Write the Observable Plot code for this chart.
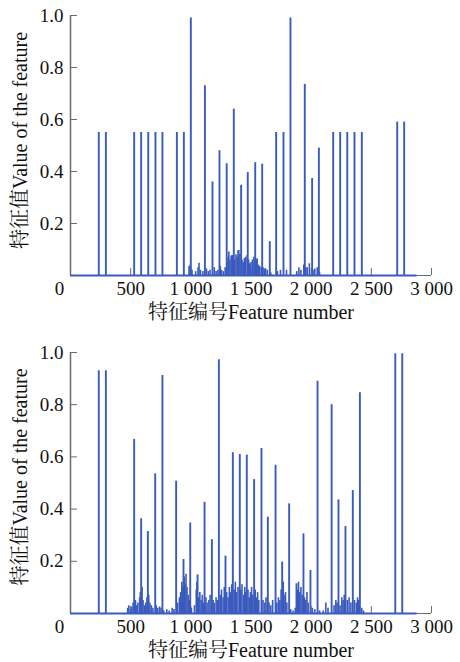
<!DOCTYPE html>
<html><head><meta charset="utf-8">
<script src="https://cdn.jsdelivr.net/npm/d3@7"></script>
<script src="https://cdn.jsdelivr.net/npm/@observablehq/plot@0.6"></script>
<style>
body{margin:0;background:#fff;}
#chart svg{display:block;}
</style>
</head><body><div id="chart"></div>
<script>
// ---- data ----
const xTicks = [500, 1000, 1500, 2000, 2500, 3000];
const xZeroTick = [0];
const yTicks = [0.2, 0.4, 0.6, 0.8, 1.0];
const featureCount = 2880;
const xLabel = "特征编号Feature number";
const yLabel = "特征值Value of the feature";

// top panel: [feature number, value]
const topMajor = [
  [235,0.55],[294,0.55],[529,0.55],[587,0.55],[646,0.55],[706,0.55],[764,0.55],[884,0.55],[942,0.55],
  [1000,0.99],[1117,0.73],[1180,0.36],[1238,0.48],[1298,0.43],[1357,0.64],[1418,0.347],[1473,0.396],
  [1535,0.434],[1593,0.428],[1656,0.13],[1709,0.55],[1770,0.55],[1828,0.99],[1947,0.735],[2008,0.373],
  [2064,0.49],[2183,0.55],[2241,0.55],[2300,0.55],[2360,0.55],[2421,0.55],[2715,0.59],[2773,0.59]
];
const topMinor = [
  [985,0.035],[995,0.04],[1010,0.02],[1040,0.015],[1060,0.03],[1068,0.047],[1080,0.02],[1100,0.015],
  [1130,0.025],[1145,0.015],[1160,0.02],[1195,0.03],[1210,0.015],[1225,0.02],[1245,0.035],[1255,0.02],
  [1270,0.015],[1285,0.03],[1300,0.05],[1310,0.07],[1316,0.09],[1325,0.06],[1335,0.075],[1344,0.077],
  [1352,0.05],[1365,0.06],[1375,0.08],[1385,0.07],[1392,0.095],[1399,0.096],[1408,0.08],[1425,0.06],
  [1435,0.05],[1445,0.065],[1455,0.07],[1468,0.077],[1480,0.06],[1490,0.045],[1500,0.05],[1512,0.06],
  [1524,0.07],[1533,0.055],[1545,0.06],[1551,0.064],[1560,0.04],[1572,0.035],[1585,0.03],[1600,0.03],
  [1612,0.025],[1621,0.026],[1635,0.02],[1665,0.01],[1720,0.015],[1745,0.02],[1795,0.02],[1880,0.015],
  [1898,0.03],[1915,0.02],[1939,0.04],[1955,0.03],[1967,0.03],[1985,0.045],[2015,0.02],[2030,0.025],
  [2050,0.03],[2070,0.01]
];

// bottom panel: [feature number, value]
const bottomMajor = [
  [235,0.93],[294,0.93],[529,0.667],[587,0.363],[643,0.314],[704,0.535],[764,0.912],[878,0.507],
  [939,0.207],[995,0.347],[1056,0.148],[1114,0.426],[1175,0.283],[1233,0.972],[1288,0.22],[1349,0.616],
  [1407,0.609],[1465,0.607],[1526,0.513],[1587,0.632],[1640,0.369],[1704,0.568],[1759,0.197],[1817,0.42],
  [1878,0.114],[1936,0.305],[1994,0.165],[2053,0.89],[2170,0.80],[2227,0.435],[2285,0.333],[2346,0.471],
  [2405,0.846],[2699,0.995],[2757,0.995]
];
const bottomMinor = [
  [475,0.02],[485,0.03],[497,0.015],[510,0.025],[520,0.04],[540,0.05],[550,0.03],[560,0.04],[575,0.06],
  [580,0.08],[595,0.1],[603,0.05],[615,0.03],[625,0.04],[635,0.06],[650,0.07],[660,0.04],[672,0.03],
  [685,0.02],[712,0.03],[725,0.02],[740,0.025],[752,0.02],[775,0.01],[800,0.015],[820,0.01],[845,0.02],
  [860,0.015],[890,0.04],[905,0.06],[915,0.08],[925,0.12],[932,0.1],[945,0.14],[952,0.11],[960,0.15],
  [968,0.1],[978,0.07],[988,0.05],[1005,0.02],[1030,0.03],[1045,0.09],[1050,0.12],[1065,0.06],[1075,0.08],
  [1085,0.05],[1095,0.07],[1105,0.04],[1125,0.06],[1135,0.04],[1150,0.05],[1160,0.07],[1185,0.05],
  [1195,0.04],[1210,0.06],[1220,0.05],[1245,0.07],[1255,0.09],[1268,0.06],[1278,0.1],[1298,0.08],
  [1310,0.06],[1320,0.1],[1330,0.08],[1340,0.11],[1360,0.09],[1370,0.12],[1380,0.08],[1392,0.1],
  [1415,0.09],[1425,0.11],[1438,0.07],[1448,0.1],[1455,0.08],[1475,0.09],[1485,0.06],[1495,0.08],
  [1505,0.1],[1515,0.07],[1535,0.09],[1545,0.06],[1555,0.08],[1565,0.05],[1600,0.05],[1615,0.04],
  [1625,0.06],[1650,0.04],[1665,0.03],[1680,0.05],[1715,0.04],[1728,0.06],[1740,0.05],[1750,0.09],
  [1768,0.12],[1775,0.07],[1787,0.08],[1798,0.04],[1830,0.015],[1850,0.01],[1868,0.02],[1885,0.09],
  [1895,0.12],[1905,0.08],[1915,0.1],[1925,0.07],[1945,0.06],[1955,0.05],[1965,0.08],[1975,0.04],
  [2010,0.02],[2030,0.015],[2070,0.01],[2100,0.01],[2122,0.04],[2140,0.02],[2190,0.03],[2205,0.05],
  [2215,0.04],[2240,0.03],[2255,0.06],[2265,0.05],[2275,0.07],[2300,0.05],[2315,0.06],[2330,0.04],
  [2360,0.05],[2375,0.04],[2385,0.06],[2395,0.05],[2420,0.02],[2435,0.01]
];

// ---- styling ----
const blue = "#3a5bbd";
const axisGray = "#6b6b6b";
const ink = "#111";
const fmtX = d => d >= 1000 ? d3.format(",")(d).replace(",", " ") : String(d);

function panel(major, minor, marginTop, marginBottom, yTitleDy) {
  return Plot.plot({
    width: 460, height: 331,
    marginLeft: 70, marginRight: 29, marginTop, marginBottom,
    x: {domain: [0, 3000]},
    y: {domain: [0, 1]},
    style: "font-family: 'Liberation Serif', 'Noto Serif CJK SC', serif; font-size: 19px; background: #fff; color: #111;",
    marks: [
      Plot.ruleY([0], {stroke: axisGray, strokeWidth: 1.2}),
      Plot.ruleX([0], {y1: 0, y2: 1, stroke: axisGray, strokeWidth: 1.5}),
      Plot.axisY(yTicks, {tickSize: -7, tickPadding: 14, tickFormat: d3.format(".1f"), stroke: axisGray, fill: ink, fontSize: 19, label: null}),
      Plot.axisX(xTicks, {tickSize: -7, tickPadding: 13, tickFormat: fmtX, stroke: axisGray, fill: ink, fontSize: 19, label: null}),
      Plot.axisX(xZeroTick, {tickSize: 0, tickPadding: 6, dx: -11, tickFormat: fmtX, fill: ink, fontSize: 19, label: null}),
      Plot.ruleY([0], {x1: 0, x2: featureCount, stroke: blue, strokeWidth: 1.8}),
      Plot.ruleX(minor, {x: d => d[0], y1: 0, y2: d => d[1], stroke: blue, strokeWidth: 1.6}),
      Plot.ruleX(major, {x: d => d[0], y1: 0, y2: d => d[1], stroke: blue, strokeWidth: 1.9}),
      Plot.text([xLabel], {frameAnchor: "bottom", lineAnchor: "middle", textAnchor: "middle", dy: 37, fontSize: 20, fill: ink}),
      Plot.text([yLabel], {frameAnchor: "left", textAnchor: "middle", lineAnchor: "middle", rotate: -90, dx: -50, dy: yTitleDy, fontSize: 20, fill: ink})
    ]
  });
}

const chart = document.getElementById("chart");
chart.append(panel(topMajor, topMinor, 15, 56, -5));
chart.append(panel(bottomMajor, bottomMinor, 21, 49, -6));
</script>
</body></html>
